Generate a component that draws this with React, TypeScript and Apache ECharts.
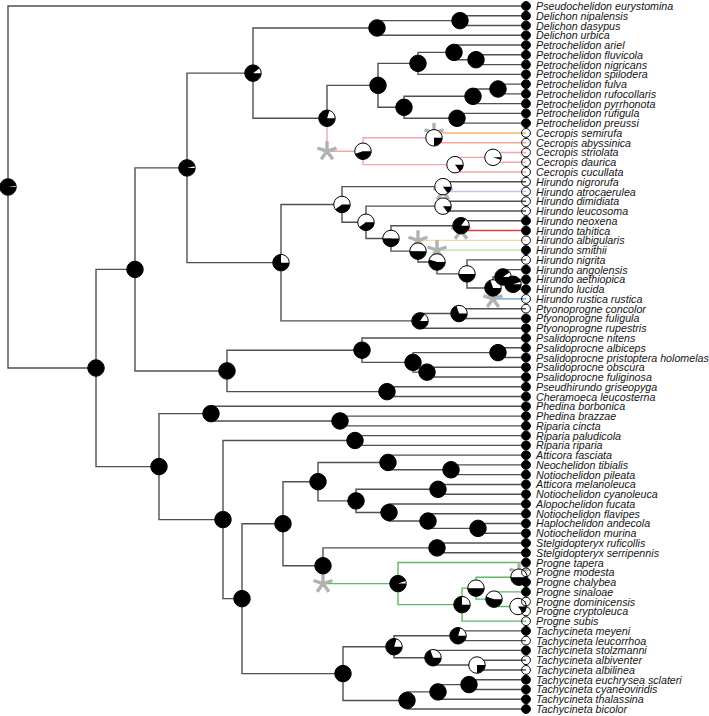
import React, { useEffect, useRef } from "react";
import * as echarts from "echarts";

// ---------- DATA ----------
const tipNames = [
  "Pseudochelidon eurystomina", "Delichon nipalensis", "Delichon dasypus", "Delichon urbica",
  "Petrochelidon ariel", "Petrochelidon fluvicola", "Petrochelidon nigricans", "Petrochelidon spilodera",
  "Petrochelidon fulva", "Petrochelidon rufocollaris", "Petrochelidon pyrrhonota", "Petrochelidon rufigula",
  "Petrochelidon preussi", "Cecropis semirufa", "Cecropis abyssinica", "Cecropis striolata",
  "Cecropis daurica", "Cecropis cucullata", "Hirundo nigrorufa", "Hirundo atrocaerulea",
  "Hirundo dimidiata", "Hirundo leucosoma", "Hirundo neoxena", "Hirundo tahitica",
  "Hirundo albigularis", "Hirundo smithii", "Hirundo nigrita", "Hirundo angolensis",
  "Hirundo aethiopica", "Hirundo lucida", "Hirundo rustica rustica", "Ptyonoprogne concolor",
  "Ptyonoprogne fuligula", "Ptyonoprogne rupestris", "Psalidoprocne nitens", "Psalidoprocne albiceps",
  "Psalidoprocne pristoptera holomelas", "Psalidoprocne obscura", "Psalidoprocne fuliginosa", "Pseudhirundo griseopyga",
  "Cheramoeca leucosterna", "Phedina borbonica", "Phedina brazzae", "Riparia cincta",
  "Riparia paludicola", "Riparia riparia", "Atticora fasciata", "Neochelidon tibialis",
  "Notiochelidon pileata", "Atticora melanoleuca", "Notiochelidon cyanoleuca", "Alopochelidon fucata",
  "Notiochelidon flavipes", "Haplochelidon andecola", "Notiochelidon murina", "Stelgidopteryx ruficollis",
  "Stelgidopteryx serripennis", "Progne tapera", "Progne modesta", "Progne chalybea",
  "Progne sinaloae", "Progne dominicensis", "Progne cryptoleuca", "Progne subis",
  "Tachycineta meyeni", "Tachycineta leucorrhoa", "Tachycineta stolzmanni", "Tachycineta albiventer",
  "Tachycineta albilinea", "Tachycineta euchrysea sclateri", "Tachycineta cyaneoviridis", "Tachycineta thalassina",
  "Tachycineta bicolor",
];

const tipParents = [
  "root", "O", "O", "M", "S", "T", "T", "Q", "V", "V", "U", "W", "W",
  "Y", "Y", "AA", "AA", "Z", "AE", "AE", "AG", "AG", "AI", "AI", "AJ", "AK", "AL",
  "AN", "AO", "AO", "AM", "AD", "AD", "AC", "F", "H", "H", "I", "I", "J", "J",
  "BA", "BC", "BC", "BD", "BD", "BJ", "BL", "BL", "BM", "BM", "BN", "BO", "BP", "BP",
  "BQ", "BQ", "BR", "BU", "BU", "BV", "BW", "BW", "BS", "BZ", "BZ", "CA", "CB", "CB",
  "CD", "CD", "CC", "BY",
];

// 1 = open (white) tip, 0 = filled (black) tip
const tipStates = [
  0, 0, 0, 0, 0, 0, 0, 0, 0, 0, 0, 0, 0,
  1, 1, 1, 1, 1, 1, 1, 1, 1, 0, 0, 1, 0, 1,
  0, 0, 0, 1, 1, 0, 0, 0, 0, 0, 0, 0, 0, 0,
  0, 0, 0, 0, 0, 0, 0, 0, 0, 0, 0, 0, 0, 0,
  0, 0, 0, 1, 0, 0, 1, 1, 1, 0, 1, 0, 1, 1,
  0, 0, 0, 0,
];

const nodeIds = [
  "root", "A", "B", "C", "D", "E", "F", "G", "H", "I", "J", "K", "L", "M", "O", "N",
  "P", "Q", "S", "T", "R", "U", "V", "W", "X", "Y", "Z", "AA", "AB", "AE", "AF", "AG",
  "AH", "AI", "AJ", "AK", "AL", "AM", "AN", "AO", "AC", "AD", "BA", "BB", "BC", "BD",
  "BE", "BF", "BG", "BH", "BI", "BJ", "BL", "BK", "BM", "BN", "BO", "BP", "BQ", "BR",
  "BS", "BT", "BU", "BV", "BW", "BX", "BZ", "CA", "CB", "BY", "CC", "CD",
];
const nodeParents = [
  "", "root", "A", "A", "B", "B", "E", "F", "G", "G", "E", "D", "D", "K", "M", "K",
  "N", "P", "Q", "S", "P", "R", "U", "R", "N", "X", "X", "Z", "L", "AB", "AB", "AF",
  "AF", "AH", "AH", "AJ", "AK", "AL", "AM", "AN", "L", "AC", "C", "C", "BA", "BB",
  "BB", "BE", "BE", "BF", "BF", "BH", "BJ", "BH", "BK", "BK", "BN", "BO", "BI", "BI",
  "BR", "BS", "BT", "BT", "BV", "BG", "BX", "BX", "CA", "BG", "BY", "CC",
];
// distance from the root (tips sit at TIP_DEPTH)
const nodeDepths = [
  0, 88, 127, 151, 179, 219, 354, 405, 490, 419, 379, 245, 273, 369, 452, 319,
  370, 410, 446, 468, 396, 465, 490, 449, 355, 426, 447, 485, 334, 435, 358, 435,
  383, 453, 410, 429, 459, 485, 495, 505, 412, 451, 203, 215, 332, 347,
  234, 275, 335, 310, 315, 380, 443, 348, 430, 381, 420, 470, 429, 390,
  454, 468, 511, 486, 510, 386, 450, 425, 469, 399, 430, 461,
];
// probability of the open (white) state at each node
const nodeWhite = [
  0.02, 0, 0, 0, 0.03, 0, 0, 0, 0, 0, 0, 0.1, 0.25, 0, 0, 0.2,
  0, 0, 0, 0, 0, 0, 0, 0, 0.55, 0.75, 0.85, 0.95, 0.6, 0.85, 0.6, 0.85,
  0.5, 0.15, 0.5, 0.45, 0.5, 0.3, 0.1, 0.05, 0.15, 0.3, 0, 0, 0, 0,
  0, 0, 0, 0, 0, 0, 0, 0, 0, 0, 0, 0, 0, 0.05,
  0.25, 0.5, 0.5, 0.45, 0.85, 0.2, 0.2, 0.3, 0.75, 0, 0, 0,
];
const TIP_DEPTH = 518;

const colorNames = ["base", "pink", "orange", "lavender", "red", "peach", "lightgreen", "blue", "green"];
const colorValues = ["#505050", "#f5a6a6", "#f0b868", "#c9c0e6", "#e23b3f", "#f8d2a4", "#b6dda2", "#5b9bd5", "#62b862"];
const coloredBranches = [
  "X", "Y", "Z", "AA", "t14", "t15", "t16", "t17", "t13",
  "t19", "t23", "t24", "t25", "t30",
  "BR", "t57", "BS", "BT", "BU", "BV", "BW", "t58", "t59", "t60", "t61", "t62", "t63",
];
const coloredBranchColors = [
  "pink", "pink", "pink", "pink", "pink", "pink", "pink", "pink", "orange",
  "lavender", "red", "peach", "lightgreen", "blue",
  "green", "green", "green", "green", "green", "green", "green", "green", "green", "green", "green", "green", "green",
];
const asteriskBranches = ["X", "t13", "t19", "t23", "t24", "t25", "t30", "BR", "t58"];

// ---------- LAYOUT FROM DATA ----------
function buildTree() {
  const children: Record<string, string[]> = {};
  const depth: Record<string, number> = {};
  const parent: Record<string, string> = {};
  nodeIds.forEach((id, i) => {
    depth[id] = nodeDepths[i];
    parent[id] = nodeParents[i];
    children[id] = children[id] || [];
    if (nodeParents[i]) (children[nodeParents[i]] = children[nodeParents[i]] || []).push(id);
  });
  const yPos: Record<string, number> = {};
  tipNames.forEach((_, i) => {
    const id = "t" + i;
    depth[id] = TIP_DEPTH;
    parent[id] = tipParents[i];
    yPos[id] = i;
    (children[tipParents[i]] = children[tipParents[i]] || []).push(id);
  });
  const getY = (id: string): number => {
    if (yPos[id] !== undefined) return yPos[id];
    const ch = children[id];
    const v = ch.reduce((s, c) => s + getY(c), 0) / ch.length;
    yPos[id] = v;
    return v;
  };
  nodeIds.forEach(getY);
  return { depth, parent, yPos };
}

export default function App() {
  const ref = useRef<HTMLDivElement>(null);
  useEffect(() => {
    if (!ref.current) return;
    const chart = echarts.init(ref.current, undefined, { renderer: "svg" });
    const { depth, parent, yPos } = buildTree();
    const allIds = [...nodeIds.filter((id) => id !== "root"), ...tipNames.map((_, i) => "t" + i)];

    const edgeData = allIds.map((id) => {
      const p = parent[id];
      const k = coloredBranches.indexOf(id);
      const cIdx = k >= 0 ? colorNames.indexOf(coloredBranchColors[k]) : 0;
      return [depth[p], yPos[p], depth[id], yPos[id], cIdx];
    });
    // draw coloured branches on top of black ones
    edgeData.sort((a, b) => (a[4] > 0 ? 1 : 0) - (b[4] > 0 ? 1 : 0));

    const asteriskData = asteriskBranches.map((id) => [depth[parent[id]], yPos[id]]);
    const pieData = nodeIds.map((id, i) => [depth[id], yPos[id], nodeWhite[i]]);
    const tipData = tipNames.map((name, i) => [TIP_DEPTH, i, tipStates[i], name]);

    const option: any = {
      animation: false,
      grid: { left: 8, right: 183, top: 6, bottom: 7 },
      xAxis: { type: "value", min: 0, max: TIP_DEPTH, show: false },
      yAxis: { type: "value", min: 0, max: 72, inverse: true, show: false },
      series: [
        {
          type: "custom",
          coordinateSystem: "cartesian2d",
          clip: false,
          data: edgeData,
          renderItem: (_p: any, api: any) => {
            const a = api.coord([api.value(0), api.value(1)]);
            const b = api.coord([api.value(2), api.value(3)]);
            return {
              type: "polyline",
              shape: { points: [[a[0], a[1]], [a[0], b[1]], [b[0], b[1]]] },
              style: { stroke: colorValues[api.value(4)], lineWidth: 1.4, fill: "none" },
            };
          },
        },
        {
          type: "custom",
          coordinateSystem: "cartesian2d",
          clip: false,
          data: asteriskData,
          renderItem: (_p: any, api: any) => {
            const c = api.coord([api.value(0), api.value(1)]);
            const r = 10;
            const arms = [90, 18, 162, 234, 306].map((deg) => {
              const rad = (deg * Math.PI) / 180;
              return {
                type: "line",
                shape: { x1: c[0], y1: c[1], x2: c[0] + r * Math.cos(rad), y2: c[1] - r * Math.sin(rad) },
                style: { stroke: "#b2b2b2", lineWidth: 3.4 },
              };
            });
            return { type: "group", children: arms };
          },
        },
        {
          type: "custom",
          coordinateSystem: "cartesian2d",
          clip: false,
          data: pieData,
          renderItem: (_p: any, api: any) => {
            const c = api.coord([api.value(0), api.value(1)]);
            const w = api.value(2);
            const r = 8.2;
            const kids: any[] = [];
            if (w <= 0) {
              kids.push({ type: "circle", shape: { cx: c[0], cy: c[1], r }, style: { fill: "#000" } });
            } else if (w >= 1) {
              kids.push({ type: "circle", shape: { cx: c[0], cy: c[1], r }, style: { fill: "#fff" } });
            } else {
              const a = 2 * Math.PI * w;
              kids.push({
                type: "sector",
                shape: { cx: c[0], cy: c[1], r0: 0, r, startAngle: -a, endAngle: 0, clockwise: true },
                style: { fill: "#fff" },
              });
              kids.push({
                type: "sector",
                shape: { cx: c[0], cy: c[1], r0: 0, r, startAngle: 0, endAngle: 2 * Math.PI - a, clockwise: true },
                style: { fill: "#000" },
              });
            }
            kids.push({
              type: "circle",
              shape: { cx: c[0], cy: c[1], r },
              style: { fill: "none", stroke: "#000", lineWidth: 1 },
            });
            return { type: "group", children: kids };
          },
        },
        {
          type: "custom",
          coordinateSystem: "cartesian2d",
          clip: false,
          data: tipData,
          renderItem: (_p: any, api: any) => {
            const c = api.coord([api.value(0), api.value(1)]);
            const open = api.value(2) === 1;
            const idx = _p.dataIndex;
            return {
              type: "group",
              children: [
                {
                  type: "circle",
                  shape: { cx: c[0], cy: c[1], r: 4.4 },
                  style: { fill: open ? "none" : "#000", stroke: "#000", lineWidth: 1 },
                },
                {
                  type: "text",
                  x: c[0] + 10,
                  y: c[1],
                  style: {
                    text: tipNames[idx],
                    fill: "#151515",
                    font: "italic 10.7px 'Liberation Sans', Arial, sans-serif",
                    lineHeight: 9.5,
                    align: "left",
                    verticalAlign: "middle",
                  },
                },
              ],
            };
          },
        },
      ],
    };
    chart.setOption(option);
    return () => chart.dispose();
  }, []);
  return (
    <div
      ref={ref}
      style={{ position: "absolute", left: 0, top: 0, width: 709, height: 716, background: "#fff" }}
    />
  );
}
